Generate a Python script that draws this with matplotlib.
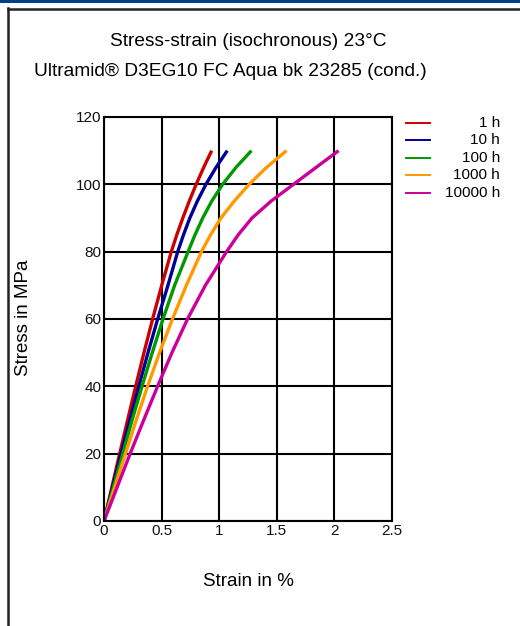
import matplotlib
matplotlib.use("Agg")
import matplotlib.pyplot as plt
from matplotlib.lines import Line2D
from matplotlib.patches import Rectangle

plt.rcParams["font.family"] = ["Liberation Sans", "DejaVu Sans"]

# isochronous stress-strain curves, 23 C
stress = [0, 20, 30, 40, 50, 60, 70, 80, 85, 90, 95, 100, 105, 110]
strain_1h = [0, 0.136, 0.205, 0.275, 0.347, 0.422, 0.501, 0.584, 0.632, 0.684,
             0.740, 0.800, 0.865, 0.935]
strain_10h = [0, 0.148, 0.225, 0.302, 0.382, 0.466, 0.555, 0.640, 0.690, 0.745,
              0.810, 0.885, 0.972, 1.070]
strain_100h = [0, 0.163, 0.244, 0.330, 0.419, 0.512, 0.613, 0.730, 0.790, 0.857,
               0.935, 1.030, 1.145, 1.280]
strain_1000h = [0, 0.186, 0.280, 0.378, 0.482, 0.594, 0.715, 0.846, 0.925, 1.015,
                1.130, 1.260, 1.410, 1.584]
strain_10000h = [0, 0.227, 0.345, 0.465, 0.590, 0.725, 0.880, 1.064, 1.165, 1.285,
                 1.450, 1.645, 1.840, 2.036]

labels = ["1 h", "10 h", "100 h", "1000 h", "10000 h"]
colors = ["#cc0000", "#000099", "#009900", "#ff9900", "#cc0099"]
series = [strain_1h, strain_10h, strain_100h, strain_1000h, strain_10000h]

fig = plt.figure(figsize=(5.2, 6.26), dpi=100)
W, H = 520, 626

# page decoration: blue top bar and frame
fig.add_artist(Rectangle((0, 1 - 2.5 / H), 1, 2.5 / H, transform=fig.transFigure,
                         color="#003f8a", lw=0))
fig.add_artist(Line2D([7.5 / W, 7.5 / W], [0, 1 - 8 / H], transform=fig.transFigure,
                      color="#222222", lw=1.8))
fig.add_artist(Line2D([7.5 / W, 1], [1 - 8.5 / H, 1 - 8.5 / H], transform=fig.transFigure,
                      color="#222222", lw=1.8))

ax = fig.add_axes([104 / W, 1 - 521 / H, (392 - 104) / W, (521 - 117) / H])
for s, c in zip(series, colors):
    ax.plot(s, stress, color=c, lw=2.4, solid_capstyle="butt", solid_joinstyle="round")

ax.set_xlim(0, 2.5)
ax.set_ylim(0, 120)
ax.set_xticks([0, 0.5, 1, 1.5, 2, 2.5])
ax.set_xticklabels(["0", "0.5", "1", "1.5", "2", "2.5"])
ax.set_yticks(range(0, 121, 20))
ax.grid(True, color="black", lw=1.5)
ax.set_axisbelow(True)
for sp in ax.spines.values():
    sp.set_linewidth(1.5)
ax.tick_params(length=0, labelsize=11, pad=2, colors="#111111")

fig.text(248 / W, 1 - 42 / H, "Stress-strain (isochronous) 23°C", ha="center",
         va="center", fontsize=13.8)
fig.text(230 / W, 1 - 72 / H, "Ultramid® D3EG10 FC Aqua bk 23285 (cond.)",
         ha="center", va="center", fontsize=13.8)
fig.text(248 / W, 1 - 581 / H, "Strain in %", ha="center", va="center", fontsize=13.5)
fig.text(24 / W, 1 - 318 / H, "Stress in MPa", ha="center", va="center",
         rotation=90, fontsize=13.5)

# legend drawn by hand: line on the left, text right-aligned
for i, (lab, c) in enumerate(zip(labels, colors)):
    y = 1 - (123 + 17.4 * i) / H
    fig.add_artist(Line2D([406 / W, 430 / W], [y, y], transform=fig.transFigure,
                          color=c, lw=1.4))
    fig.text(500 / W, y, lab, ha="right", va="center", fontsize=11)

fig.savefig("out.png", dpi=100)
